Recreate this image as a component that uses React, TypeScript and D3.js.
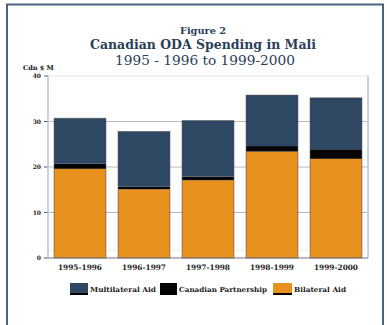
import React from "react";
import { scaleBand, scaleLinear, stack } from "d3";

const years = ["1995-1996", "1996-1997", "1997-1998", "1998-1999", "1999-2000"];
const bilateral = [19.6, 15.1, 17.1, 23.4, 21.8];
const partnership = [1.1, 0.6, 0.8, 1.2, 2.1];
const multilateral = [10.0, 12.1, 12.3, 11.2, 11.3];
const yTicks = [0, 10, 20, 30, 40];

const seriesKeys = ["bilateral", "partnership", "multilateral"];
const seriesColors: Record<string, string> = {
  bilateral: "#e8911f",
  partnership: "#050505",
  multilateral: "#2f4863",
};
const legendItems = [
  { key: "multilateral", label: "Multilateral Aid" },
  { key: "partnership", label: "Canadian Partnership" },
  { key: "bilateral", label: "Bilateral Aid" },
];

const titleColor = "#2b3e58";
const font = "'DejaVu Serif', serif";

export default function App() {
  const margin = { top: 76, left: 48, right: 19, bottom: 67 };
  const W = 387;
  const H = 325;
  const width = W - margin.left - margin.right;
  const height = H - margin.top - margin.bottom;

  const rows = years.map((y, i) => ({
    year: y,
    bilateral: bilateral[i],
    partnership: partnership[i],
    multilateral: multilateral[i],
  }));
  const layers = stack<any>().keys(seriesKeys)(rows);

  const x = scaleBand().domain(years).range([0, width]).paddingInner(0.19).paddingOuter(0.095);
  const y = scaleLinear().domain([0, 40]).range([height, 0]);

  // legend layout
  const legendX = [70, 160, 273];
  const legendW = [18, 17, 19];
  const legendTextW = [66, 88, 52];

  return (
    <svg
      width={W}
      height={H}
      style={{ position: "absolute", left: 0, top: 0, background: "#fff" }}
    >
      <rect x={7} y={4.5} width={376} height={330} fill="#fff" stroke="#4b6282" strokeWidth={2} />

      <text x={203} y={34} textAnchor="middle" fontFamily={font} fontWeight="bold" fontSize={8.5}
        fill={titleColor} textLength={46} lengthAdjust="spacingAndGlyphs">
        Figure 2
      </text>
      <text x={203} y={49} textAnchor="middle" fontFamily={font} fontWeight="bold" fontSize={12}
        fill={titleColor} textLength={226} lengthAdjust="spacingAndGlyphs">
        Canadian ODA Spending in Mali
      </text>
      <text x={205} y={64.5} textAnchor="middle" fontFamily={font} fontSize={12}
        fill={titleColor} textLength={180} lengthAdjust="spacingAndGlyphs">
        1995 - 1996 to 1999-2000
      </text>
      <text x={23} y={70} fontFamily={font} fontWeight="bold" fontSize={6.5} fill="#111">
        Cdn $ M
      </text>

      <g transform={`translate(${margin.left}, ${margin.top})`}>
        {yTicks.map((t) => (
          <g key={`tick-${t}`}>
            {t > 0 && (
              <line x1={0} x2={width} y1={y(t)} y2={y(t)} stroke={t === 40 ? "#dde3ea" : "#b7bcc2"} strokeWidth={1} />
            )}
            <line x1={-4} x2={0} y1={y(t)} y2={y(t)} stroke="#555" />
            <text x={-7} y={y(t) + 2} textAnchor="end" fontFamily={font} fontWeight="bold" fontSize={6} fill="#222">
              {t}
            </text>
          </g>
        ))}
        <line x1={width} x2={width} y1={0} y2={height} stroke="#c9d3dd" strokeWidth={2} />
        <line x1={0} x2={width} y1={height - 8} y2={height - 8} stroke="#fbecd3" strokeWidth={1} />

        {layers.map((layer) => (
          <g key={`layer-${layer.key}`} fill={seriesColors[layer.key]}>
            {layer.map((d, i) => (
              <rect
                key={`${layer.key}-${i}`}
                x={x(years[i])!}
                y={y(d[1])}
                width={x.bandwidth()}
                height={y(d[0]) - y(d[1])}
              />
            ))}
          </g>
        ))}
        {rows.map((r) => (
          <rect
            key={`outline-${r.year}`}
            x={x(r.year)!}
            y={y(r.bilateral + r.partnership + r.multilateral)}
            width={x.bandwidth()}
            height={height - y(r.bilateral + r.partnership + r.multilateral)}
            fill="none"
            stroke="#3a3a3a"
            strokeOpacity={0.5}
            strokeWidth={1}
          />
        ))}

        <line x1={0} x2={0} y1={0} y2={height} stroke="#b8c6d6" strokeWidth={1.5} />
        <line x1={0} x2={width} y1={height} y2={height} stroke="#777" strokeWidth={1} />

        {years.map((yr) => (
          <text
            key={`xl-${yr}`}
            x={x(yr)! + x.bandwidth() / 2}
            y={height + 12}
            textAnchor="middle"
            fontFamily={font}
            fontWeight="bold"
            fontSize={7.5}
            fill="#222"
            textLength={44}
            lengthAdjust="spacingAndGlyphs"
          >
            {yr}
          </text>
        ))}
      </g>

      {legendItems.map((item, i) => (
        <g key={`legend-${item.key}`}>
          <rect x={legendX[i]} y={283} width={legendW[i]} height={11} fill={seriesColors[item.key]} />
          <rect x={legendX[i]} y={293} width={legendW[i]} height={2} fill="#000" />
          <text x={legendX[i] + legendW[i] + 2} y={292} fontFamily={font} fontWeight="bold" fontSize={7}
            fill="#222" textLength={legendTextW[i]} lengthAdjust="spacingAndGlyphs">
            {item.label}
          </text>
        </g>
      ))}
    </svg>
  );
}
